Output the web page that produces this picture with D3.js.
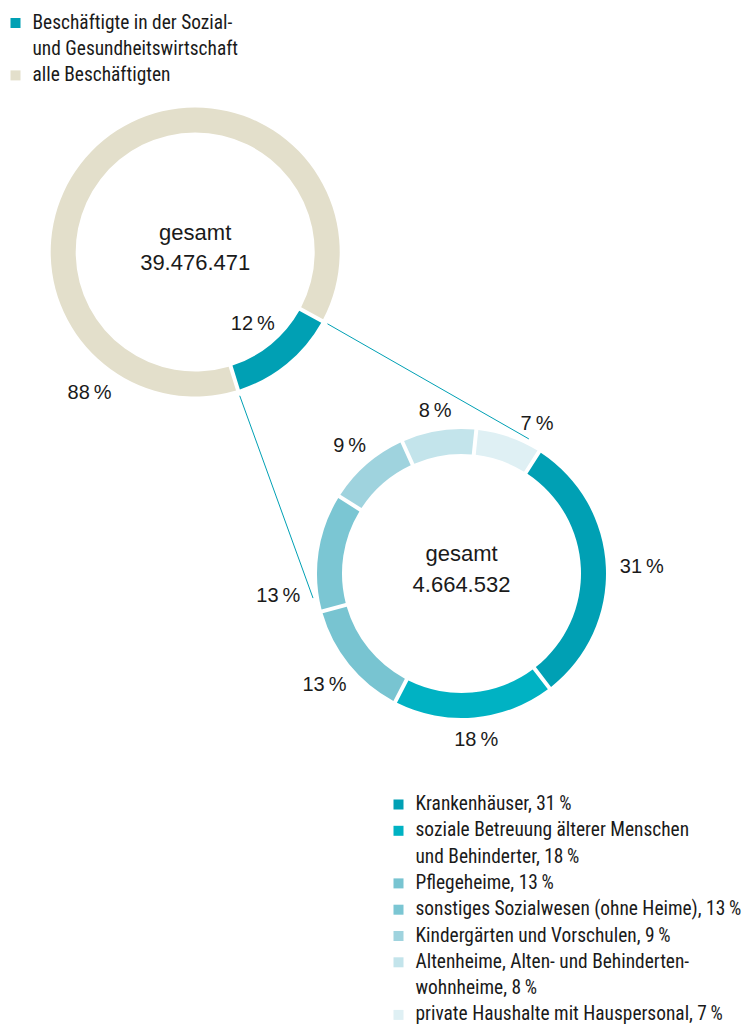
<!DOCTYPE html>
<html>
<head>
<meta charset="utf-8">
<script src="https://cdn.jsdelivr.net/npm/d3@7"></script>
<style>
  html, body { margin: 0; padding: 0; background: #fff; }
  svg { display: block; }
</style>
</head>
<body>
<svg id="chart" width="747" height="1026"></svg>
<script>
// ---------------- DATA ----------------
const totalLabel = ["gesamt", "39.476.471"];
const topCategories = ["Beschäftigte in der Sozial- und Gesundheitswirtschaft", "alle Beschäftigten"];
const topValues = [4664532, 34811939];
const topPercentLabels = ["12\u2009%", "88\u2009%"];
const topColors = ["#00A0B4", "#E3DFCB"];
const topLegendLines = [["Beschäftigte in der Sozial-", "und Gesundheitswirtschaft"], ["alle Beschäftigten"]];

const subTotalLabel = ["gesamt", "4.664.532"];
const subCategories = [
  "Krankenhäuser",
  "soziale Betreuung älterer Menschen und Behinderter",
  "Pflegeheime",
  "sonstiges Sozialwesen (ohne Heime)",
  "Kindergärten und Vorschulen",
  "Altenheime, Alten- und Behindertenwohnheime",
  "private Haushalte mit Hauspersonal"
];
const subValues = [31, 18, 13, 13, 9, 8, 7];
const subPercentLabels = ["31\u2009%", "18\u2009%", "13\u2009%", "13\u2009%", "9\u2009%", "8\u2009%", "7\u2009%"];
const subColors = ["#00A0B4", "#00B2C3", "#78C4D1", "#7BC6D3", "#9FD3DE", "#C3E4EB", "#DFF0F4"];
const subLegendLines = [
  ["Krankenhäuser, 31\u2009%"],
  ["soziale Betreuung älterer Menschen", "und Behinderter, 18\u2009%"],
  ["Pflegeheime, 13\u2009%"],
  ["sonstiges Sozialwesen (ohne Heime), 13\u2009%"],
  ["Kindergärten und Vorschulen, 9\u2009%"],
  ["Altenheime, Alten- und Behinderten-", "wohnheime, 8\u2009%"],
  ["private Haushalte mit Hauspersonal, 7\u2009%"]
];

// ---------------- LAYOUT ----------------
const deg = Math.PI / 180;
const svg = d3.select("#chart");
const R = 144.5, r0 = 119.5;
const topC = { x: 195.2, y: 252 };
const subC = { x: 461.5, y: 573.5 };
const labelFont = "'Liberation Sans', Arial, Helvetica, sans-serif";
const lineColor = "#00A0B4";

// pick a condensed font for legends if one is installed
function pickFont(cands) {
  const ctx = document.createElement("canvas").getContext("2d");
  const t = "Beschäftigte Sozialwesen 13 %";
  ctx.font = "40px monospace"; const b1 = ctx.measureText(t).width;
  ctx.font = "40px serif"; const b2 = ctx.measureText(t).width;
  for (const c of cands) {
    ctx.font = `40px "${c}", monospace`; const w1 = ctx.measureText(t).width;
    ctx.font = `40px "${c}", serif`; const w2 = ctx.measureText(t).width;
    if (w1 !== b1 || w2 !== b2) return c;
  }
  return null;
}
const condensed = pickFont(["Liberation Sans Narrow", "Roboto Condensed", "DejaVu Sans Condensed", "Arial Narrow"]);
const legendFont = condensed ? `'${condensed}', sans-serif` : labelFont;
const legendScaleX = condensed ? 1 : 0.82;

const arc = d3.arc().innerRadius(r0).outerRadius(R).padRadius(100);

// ---------- top donut ----------
const topStart = 118.5 * deg;
const topPie = d3.pie().sort(null).padAngle(0.04)
  .startAngle(topStart).endAngle(topStart + 2 * Math.PI);
const topArcs = topPie(topValues);
const gTop = svg.append("g").attr("transform", `translate(${topC.x},${topC.y})`);
gTop.selectAll("path").data(topArcs).enter().append("path")
  .attr("d", arc).attr("fill", (d, i) => topColors[i]);

// ---------- sub donut ----------
const subStart = 32.5 * deg;
const subPie = d3.pie().sort(null).padAngle(0.04)
  .startAngle(subStart).endAngle(subStart + 2 * Math.PI);
const subArcs = subPie(subValues);
const gSub = svg.append("g").attr("transform", `translate(${subC.x},${subC.y})`);
gSub.selectAll("path").data(subArcs).enter().append("path")
  .attr("d", arc).attr("fill", (d, i) => subColors[i]);

// ---------- connector lines ----------
function polar(c, r, a) { return [c.x + r * Math.sin(a), c.y - r * Math.cos(a)]; }
const teal = topArcs[0];
const connR = R + 6;
const subConnAngles = [26.6 * deg, 260.6 * deg];
const connectors = [
  [polar(topC, connR, teal.startAngle), polar(subC, connR, subConnAngles[0])],
  [polar(topC, connR, teal.endAngle), polar(subC, connR, subConnAngles[1])]
];
svg.append("g").selectAll("line").data(connectors).enter().append("line")
  .attr("x1", d => d[0][0]).attr("y1", d => d[0][1])
  .attr("x2", d => d[1][0]).attr("y2", d => d[1][1])
  .attr("stroke", lineColor).attr("stroke-width", 1);

// ---------- center labels ----------
function centerText(g, lines) {
  g.selectAll("text.c").data(lines).enter().append("text")
    .attr("class", "c")
    .attr("x", 0).attr("y", (d, i) => -12.5 + i * 30.5)
    .attr("text-anchor", "middle")
    .attr("font-family", labelFont).attr("font-size", 22)
    .attr("fill", "#1a1a1a").text(d => d);
}
centerText(gTop, totalLabel);
centerText(gSub, subTotalLabel);

// ---------- percent labels ----------
const pctSize = 20;
// top: 12% inside ring at slice middle, 88% outside lower left
const topLabelPos = [
  { a: (teal.startAngle + teal.endAngle) / 2, r: 91 },
  { a: 217 * deg, r: 175.5 }
];
gTop.selectAll("text.p").data(topArcs).enter().append("text")
  .attr("class", "p")
  .attr("x", (d, i) => topLabelPos[i].r * Math.sin(topLabelPos[i].a))
  .attr("y", (d, i) => -topLabelPos[i].r * Math.cos(topLabelPos[i].a))
  .attr("dy", "0.36em").attr("text-anchor", "middle")
  .attr("font-family", labelFont).attr("font-size", pctSize)
  .attr("fill", "#1a1a1a").text((d, i) => topPercentLabels[i]);

// sub: outside the ring, nudged away from connector lines
const nudge = { 3: -15 * deg, 6: 7.5 * deg };
const extraR = { 3: 4 };
const subLabels = gSub.selectAll("text.p").data(subArcs).enter().append("text")
  .attr("class", "p")
  .attr("text-anchor", "middle").attr("dy", "0.36em")
  .attr("font-family", labelFont).attr("font-size", pctSize)
  .attr("fill", "#1a1a1a").text((d, i) => subPercentLabels[i]);
subLabels.each(function (d, i) {
  const a = (d.startAngle + d.endAngle) / 2 + (nudge[i] || 0);
  const w = this.getComputedTextLength() / 2, h = 7;
  const rr = R + 14 + (extraR[i] || 0) + Math.hypot(w * Math.sin(a), h * Math.cos(a));
  d3.select(this).attr("x", rr * Math.sin(a)).attr("y", -rr * Math.cos(a));
});

// ---------- legends ----------
function legend(x0, baseline0, step, items, colors) {
  const g = svg.append("g");
  let row = 0;
  items.forEach((lines, i) => {
    const yb = baseline0 + row * step;
    g.append("rect").attr("x", x0).attr("y", yb - 10.5)
      .attr("width", 10).attr("height", 10).attr("fill", colors[i]);
    lines.forEach((ln, k) => {
      g.append("text")
        .attr("transform", `translate(${x0 + 22},${yb + k * step}) scale(${legendScaleX},1)`)
        .attr("font-family", legendFont).attr("font-size", 19.4)
        .attr("fill", "#1a1a1a").text(ln);
    });
    row += lines.length;
  });
}
legend(10.5, 28.5, 26.2, topLegendLines, topColors);
legend(393.5, 810, 26.3, subLegendLines, subColors);
</script>
</body>
</html>
